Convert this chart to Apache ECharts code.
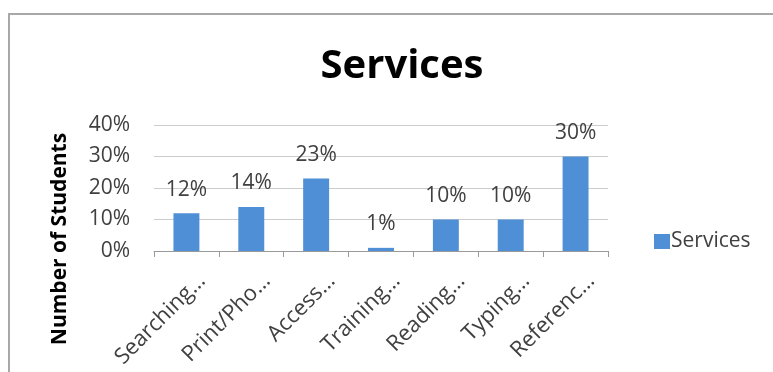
<!DOCTYPE html>
<html>
<head>
<meta charset="utf-8">
<script src="https://cdn.jsdelivr.net/npm/echarts@6/dist/echarts.min.js"></script>
<style>
  html, body { margin: 0; padding: 0; background: #fff; }
  #frame { position: absolute; left: 8px; top: 13px; width: 765px; height: 359px;
           border-top: 2px solid #a8a8a8; border-left: 2px solid #a8a8a8; box-sizing: border-box; }
  #chart { position: absolute; left: 0; top: 0; width: 773px; height: 372px; }
</style>
</head>
<body>
<div id="frame"></div>
<div id="chart"></div>
<script>
// Service categories (labels as shown, truncated)
const categories = ['Searching…', 'Print/Pho…', 'Access…', 'Training…', 'Reading…', 'Typing…', 'Referenc…'];
// Share of students using each service (%)
const shares = [12, 14, 23, 1, 10, 10, 30];
const yTicks = [0, 10, 20, 30, 40];

const chart = echarts.init(document.getElementById('chart'), null, { renderer: 'canvas' });
const txt = '#404040';
const fam = '"Open Sans", "Noto Sans", sans-serif';

chart.setOption({
  animation: false,
  title: {
    text: 'Services',
    left: 397, top: 42, textAlign: 'center',
    textStyle: { fontFamily: fam, fontWeight: 'bold', fontSize: 40, color: '#000' }
  },
  legend: {
    data: ['Services'],
    left: 649, top: 226,
    itemWidth: 16, itemHeight: 15, itemGap: 4,
    icon: 'rect',
    textStyle: { fontFamily: fam, fontSize: 21, color: txt, padding: [0, 0, 0, -4] }
  },
  graphic: [{
    type: 'text',
    x: 60, y: 239, rotation: Math.PI / 2,
    style: {
      text: 'Number of Students',
      fontFamily: fam, fontWeight: 'bold', fontSize: 21, fill: '#000',
      align: 'center', verticalAlign: 'middle'
    }
  }],
  grid: { left: 154, right: 165, top: 125, bottom: 121, outerBoundsMode: 'none', containLabel: false },
  xAxis: {
    type: 'category',
    data: categories,
    axisLine: { lineStyle: { color: '#9a9a9a', width: 1 } },
    axisTick: { show: true, length: 6, lineStyle: { color: '#9a9a9a' } },
    axisLabel: {
      rotate: 45, interval: 0, fontFamily: fam, fontSize: 22, color: txt,
      margin: 11, verticalAlign: 'top', lineHeight: 44
    }
  },
  yAxis: {
    type: 'value',
    min: yTicks[0], max: yTicks[yTicks.length - 1], interval: 10,
    axisLine: { show: false },
    axisTick: { show: false },
    axisLabel: { fontFamily: fam, fontSize: 21, color: txt, margin: 24, formatter: v => v + '%' },
    splitLine: { lineStyle: { color: '#cccccc', width: 1 } }
  },
  series: [{
    name: 'Services',
    type: 'bar',
    data: shares,
    barWidth: '40%',
    itemStyle: { color: '#4f8fd6' },
    label: {
      show: true, position: 'top', distance: 13,
      fontFamily: fam, fontSize: 21, color: txt,
      formatter: p => p.value + '%'
    }
  }]
});
</script>
</body>
</html>
